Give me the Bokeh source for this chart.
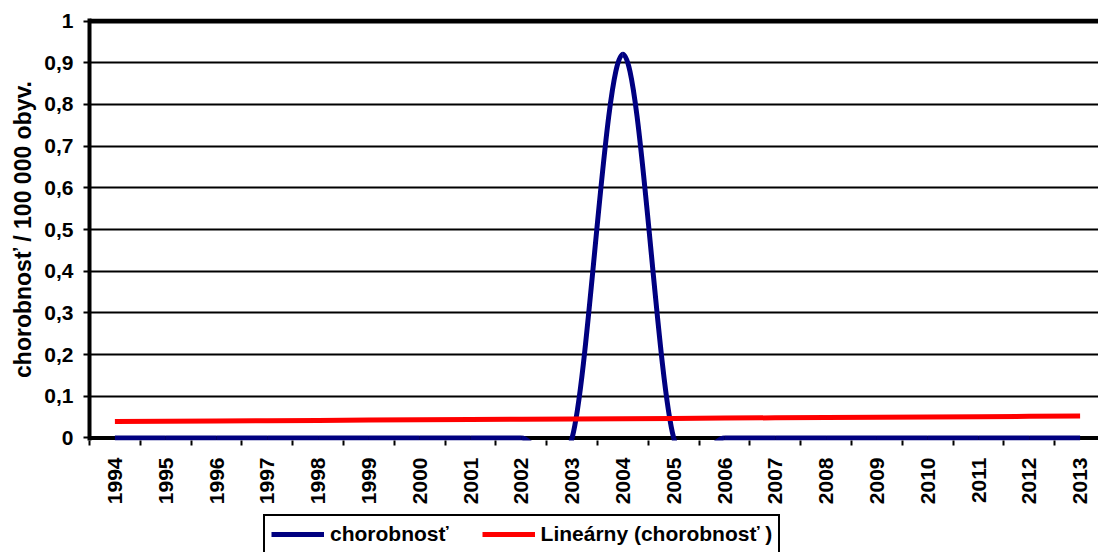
import numpy as np
from bokeh.plotting import figure
from bokeh.layouts import column
from bokeh.models import (Range1d, FixedTicker, Span, Legend, LegendItem,
                          ColumnDataSource)
from bokeh.embed import file_html
from bokeh.resources import INLINE

# ---- data ----
years = list(range(1994, 2014))
chorobnost = [0, 0, 0, 0, 0, 0, 0, 0, 0, 0, 0.92, 0, 0, 0, 0, 0, 0, 0, 0, 0]
y_ticks = [0, 0.1, 0.2, 0.3, 0.4, 0.5, 0.6, 0.7, 0.8, 0.9, 1.0]
y_tick_labels = ["0", "0,1", "0,2", "0,3", "0,4", "0,5", "0,6", "0,7", "0,8", "0,9", "1"]
series_name = "chorobnosť"
trend_name = "Lineárny (chorobnosť )"
y_title = "chorobnosť / 100 000 obyv."

FONT = "Liberation Sans"
FS = "21px"

x = np.array(years, dtype=float)
y = np.array(chorobnost, dtype=float)

# linear trend (least squares, like Excel's linear trendline)
slope, intercept = np.polyfit(x, y, 1)
trend = slope * x + intercept

# smoothed line (Catmull-Rom style bezier segments, like Excel "smoothed line")
n = len(x)
x0, y0, x1, y1, cx0, cy0, cx1, cy1 = [], [], [], [], [], [], [], []
for i in range(n - 1):
    im1 = max(i - 1, 0)
    ip2 = min(i + 2, n - 1)
    x0.append(x[i]); y0.append(y[i])
    x1.append(x[i + 1]); y1.append(y[i + 1])
    cx0.append(x[i] + (x[i + 1] - x[im1]) / 6.0)
    cy0.append(y[i] + (y[i + 1] - y[im1]) / 6.0)
    cx1.append(x[i + 1] - (x[ip2] - x[i]) / 6.0)
    cy1.append(y[i + 1] - (y[ip2] - y[i]) / 6.0)
bez = ColumnDataSource(dict(x0=x0, y0=y0, x1=x1, y1=y1,
                            cx0=cx0, cy0=cy0, cx1=cx1, cy1=cy1))

p = figure(width=1098, height=510, output_backend="svg", toolbar_location=None,
           x_range=Range1d(years[0] - 0.5, years[0] - 0.5 + 1009 / 50.8),
           y_range=Range1d(-0.006, 1.006),
           min_border_left=89, min_border_right=0, min_border_top=18,
           min_border_bottom=70)
p.outline_line_color = None
p.background_fill_color = "white"
p.border_fill_color = "white"

# grid
p.xgrid.visible = False
p.ygrid.ticker = FixedTicker(ticks=y_ticks)
p.ygrid.grid_line_color = "black"
p.ygrid.grid_line_width = 2
p.add_layout(Span(location=1.0, dimension="width", line_color="black", line_width=5))
p.add_layout(Span(location=0.0, dimension="width", line_color="black", line_width=4,
                  level="underlay"))

# bezier smoothed series
p.bezier(x0="x0", y0="y0", x1="x1", y1="y1", cx0="cx0", cy0="cy0",
         cx1="cx1", cy1="cy1", source=bez, line_color="#000080", line_width=5)
# trend line
p.line(x, trend, line_color="#FF0000", line_width=5)

# y axis
ya = p.yaxis[0]
ya.ticker = FixedTicker(ticks=y_ticks, minor_ticks=[])
ya.major_label_overrides = {t: l for t, l in zip(y_ticks, y_tick_labels)}
ya.axis_line_width = 4
ya.axis_line_color = "black"
ya.major_tick_line_width = 2
ya.major_tick_line_color = "black"
ya.major_tick_out = 6
ya.major_tick_in = 0
ya.minor_tick_line_color = None
ya.major_label_text_font = FONT
ya.major_label_text_font_style = "bold"
ya.major_label_text_font_size = FS
ya.major_label_text_color = "black"
ya.major_label_standoff = 10
ya.axis_label = y_title
ya.axis_label_text_font = FONT
ya.axis_label_text_font_style = "bold"
ya.axis_label_text_font_size = "23px"
ya.axis_label_text_color = "black"
ya.axis_label_standoff = 5

# x axis
xa = p.xaxis[0]
xa.ticker = FixedTicker(ticks=years, minor_ticks=[v - 0.5 for v in years])
xa.major_label_overrides = {v: str(v) for v in years}
xa.axis_line_color = None
xa.major_tick_line_color = None
xa.minor_tick_line_color = "black"
xa.minor_tick_line_width = 2
xa.minor_tick_out = 5
xa.minor_tick_in = 0
xa.major_tick_out = 5
xa.major_tick_in = 0
xa.major_label_orientation = np.pi / 2
xa.major_label_text_font = FONT
xa.major_label_text_font_style = "bold"
xa.major_label_text_font_size = FS
xa.major_label_text_color = "black"
xa.major_label_standoff = 12

# legend strip (separate figure below the chart)
lf = figure(width=1098, height=42, output_backend="svg", toolbar_location=None,
            x_range=Range1d(0, 1), y_range=Range1d(0, 1),
            x_axis_type=None, y_axis_type=None,
            min_border_left=0, min_border_right=0, min_border_top=0,
            min_border_bottom=0)
lf.outline_line_color = None
lf.xgrid.visible = False
lf.ygrid.visible = False
r_blue = lf.line(x=[-5, -4], y=[-5, -4], line_color="#000080", line_width=5)
r_red = lf.line(x=[-5, -4], y=[-5, -4], line_color="#FF0000", line_width=5)

legend = Legend(items=[LegendItem(label=series_name, renderers=[r_blue]),
                       LegendItem(label=trend_name, renderers=[r_red])],
                orientation="horizontal", location=(174, -2),
                border_line_color="black", border_line_width=2,
                border_line_alpha=1.0,
                background_fill_color="white", background_fill_alpha=1,
                padding=6, spacing=33, label_standoff=6,
                glyph_width=53, glyph_height=20, label_height=20, margin=0,
                label_text_font=FONT, label_text_font_style="bold",
                label_text_font_size=FS, label_text_color="black")
lf.add_layout(legend)

layout = column(p, lf, spacing=0)
open("out.html", "w").write(file_html(layout, INLINE))
